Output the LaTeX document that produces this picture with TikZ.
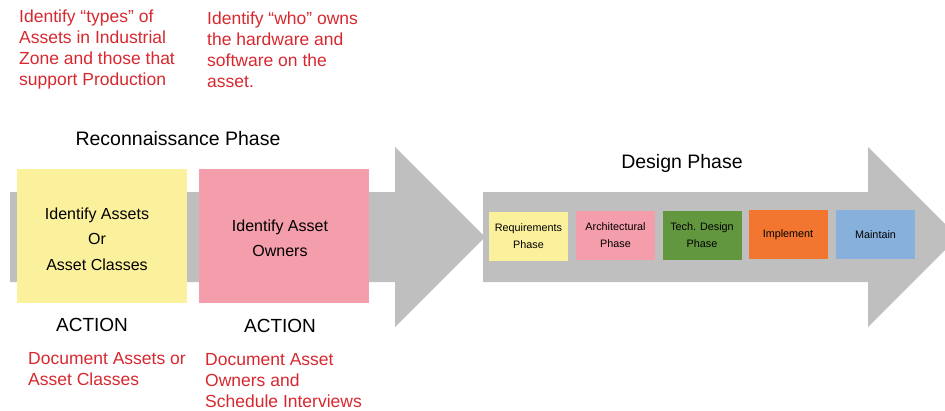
\documentclass[tikz,border=0pt]{standalone}
\usepackage{fontspec}
\setmainfont{Liberation Sans}
\definecolor{redtxt}{HTML}{D7282F}
\definecolor{arrowgray}{HTML}{BFBFBF}
\definecolor{byellow}{HTML}{FBF09C}
\definecolor{bpink}{HTML}{F49DAB}
\definecolor{bgreen}{HTML}{62963F}
\definecolor{borange}{HTML}{F2762F}
\definecolor{bblue}{HTML}{88B0DC}
\begin{document}
\begin{tikzpicture}[x=1pt,y=-1pt,
  note/.style={text=redtxt, inner sep=0pt, anchor=west, align=left, font=\fontsize{17.5}{21}\selectfont},
  phase/.style={inner sep=0pt, font=\fontsize{19.5}{23}\selectfont},
  action/.style={inner sep=0pt, font=\fontsize{19}{23}\selectfont},
  bigbox/.style={draw=none, inner sep=0pt, minimum width=170pt, minimum height=134pt},
  bigtxt/.style={inner sep=0pt, align=center, font=\fontsize{16}{25.5}\selectfont},
  smallbox/.style={inner sep=0pt, minimum width=79pt, minimum height=49pt, align=center, font=\fontsize{10.8}{17}\selectfont}]
\useasboundingbox (0,0) rectangle (945,410);
\clip (0,0) rectangle (945,410);
% arrows
\fill[arrowgray] (10,192) -- (395,192) -- (395,147) -- (485,237) -- (395,327) -- (395,282) -- (10,282) -- cycle;
\fill[arrowgray] (483,192) -- (868,192) -- (868,147) -- (958,237) -- (868,327) -- (868,282) -- (483,282) -- cycle;
% top notes
\node[note] (n1) at (19,49.5) {Identify “types” of\\Assets in Industrial\\Zone and those that\\support Production};
\node[note] (n2) at (207,49.5) {Identify “who” owns\\the hardware and\\software on the\\asset.};
% titles
\node[phase] (rp) at (178,139) {Reconnaissance Phase};
\node[phase] (dp) at (682,163) {Design Phase};
% big boxes
\node[bigbox, fill=byellow] (b1) at (102,236) {};
\node[bigtxt] (t1) at (97,239) {Identify Assets\\Or\\Asset Classes};
\node[bigbox, fill=bpink] (b2) at (284,236) {};
\node[bigtxt] (t2) at (280,238.5) {Identify Asset\\Owners};
% actions
\node[action] (a1) at (92,325) {ACTION};
\node[action] (a2) at (280,326) {ACTION};
% bottom notes
\node[note] (d1) at (28,369) {Document Assets or\\Asset Classes};
\node[note] (d2) at (205,381) {Document Asset\\Owners and\\Schedule Interviews};
% small boxes
\node[smallbox, fill=byellow] (s1) at (528.5,236.5) {Requirements\\Phase};
\node[smallbox, fill=bpink] (s2) at (615.5,235.5) {Architectural\\Phase};
\node[smallbox, fill=bgreen] (s3) at (702,235.5) {Tech. Design\\Phase};
\node[smallbox, fill=borange] (s4) at (788,234.5) {Implement};
\node[smallbox, fill=bblue] (s5) at (875.5,234.5) {Maintain};
\end{tikzpicture}
\end{document}
